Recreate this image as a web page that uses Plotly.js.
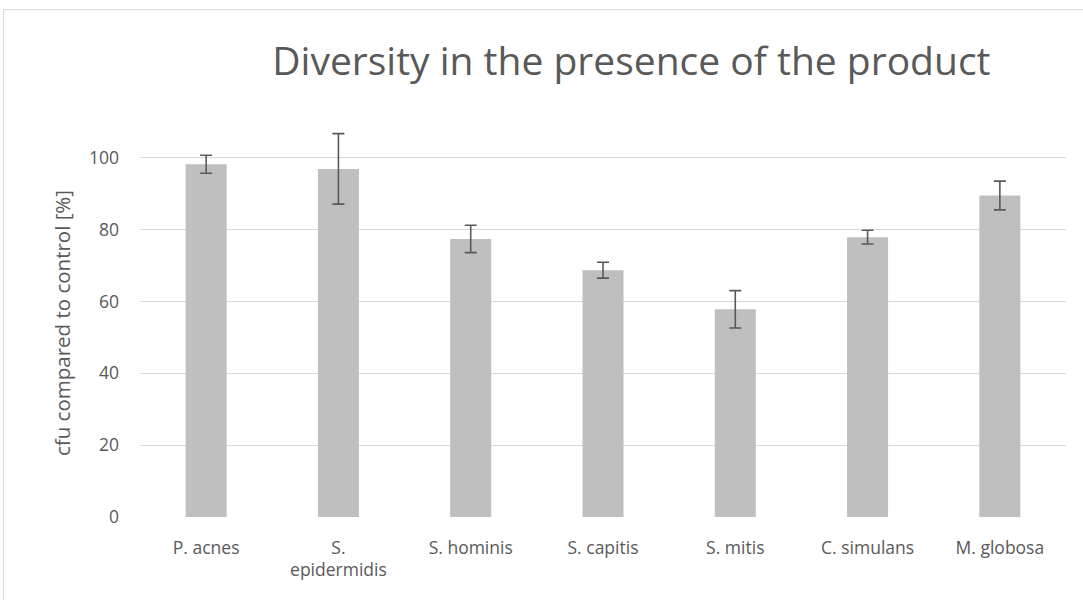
<!DOCTYPE html>
<html>
<head>
<meta charset="utf-8">
<script src="https://cdn.plot.ly/plotly-3.0.1.min.js"></script>
<style>
html,body{margin:0;padding:0;background:#fff;}
#frame{position:absolute;left:3px;top:9px;width:1200px;height:700px;border:1px solid #d9d9d9;box-sizing:border-box;}
#chart{position:absolute;left:0;top:0;width:1083px;height:600px;}
</style>
</head>
<body>
<div id="frame"></div>
<div id="chart"></div>
<script>
const categories = ["P. acnes", "S.<br>epidermidis", "S. hominis", "S. capitis", "S. mitis", "C. simulans", "M. globosa"];
const values = [98.2, 96.9, 77.4, 68.7, 57.8, 77.9, 89.5];
const errors = [2.5, 9.8, 3.8, 2.2, 5.2, 1.9, 4.0];
const yTicks = [0, 20, 40, 60, 80, 100];

const font = "Open Sans, sans-serif";
const trace = {
  type: "bar",
  x: categories,
  y: values,
  marker: {color: "#bfbfbf", line: {color: "#bfbfbf", width: 0}},
  error_y: {type: "data", array: errors, visible: true, color: "#595959", thickness: 1.6, width: 6},
  hoverinfo: "skip"
};
const layout = {
  width: 1083, height: 600,
  paper_bgcolor: "rgba(0,0,0,0)", plot_bgcolor: "rgba(0,0,0,0)",
  margin: {l: 140, r: 17, t: 129, b: 83},
  bargap: 0.69,
  showlegend: false,
  title: {text: "Diversity in the presence of the product", font: {family: font, size: 39, color: "#595959"}, x: 0.583, xanchor: "center", y: 0.897, yanchor: "middle"},
  xaxis: {
    type: "category",
    tickfont: {family: font, size: 17.5, color: "#595959"},
    showgrid: false, zeroline: false, showline: false, ticks: "",
    ticklabelstandoff: 18
  },
  yaxis: {
    range: [0, 108],
    tickvals: yTicks,
    tickfont: {family: font, size: 17.5, color: "#595959"},
    gridcolor: "#d9d9d9", gridwidth: 1.3,
    zeroline: false, showline: false, ticks: "",
    ticklabelstandoff: 20,
    title: {text: "cfu compared to control [%]", font: {family: font, size: 20.5, color: "#595959"}, standoff: 12}
  }
};
Plotly.newPlot("chart", [trace], layout, {displayModeBar: false, staticPlot: true});
</script>
</body>
</html>
